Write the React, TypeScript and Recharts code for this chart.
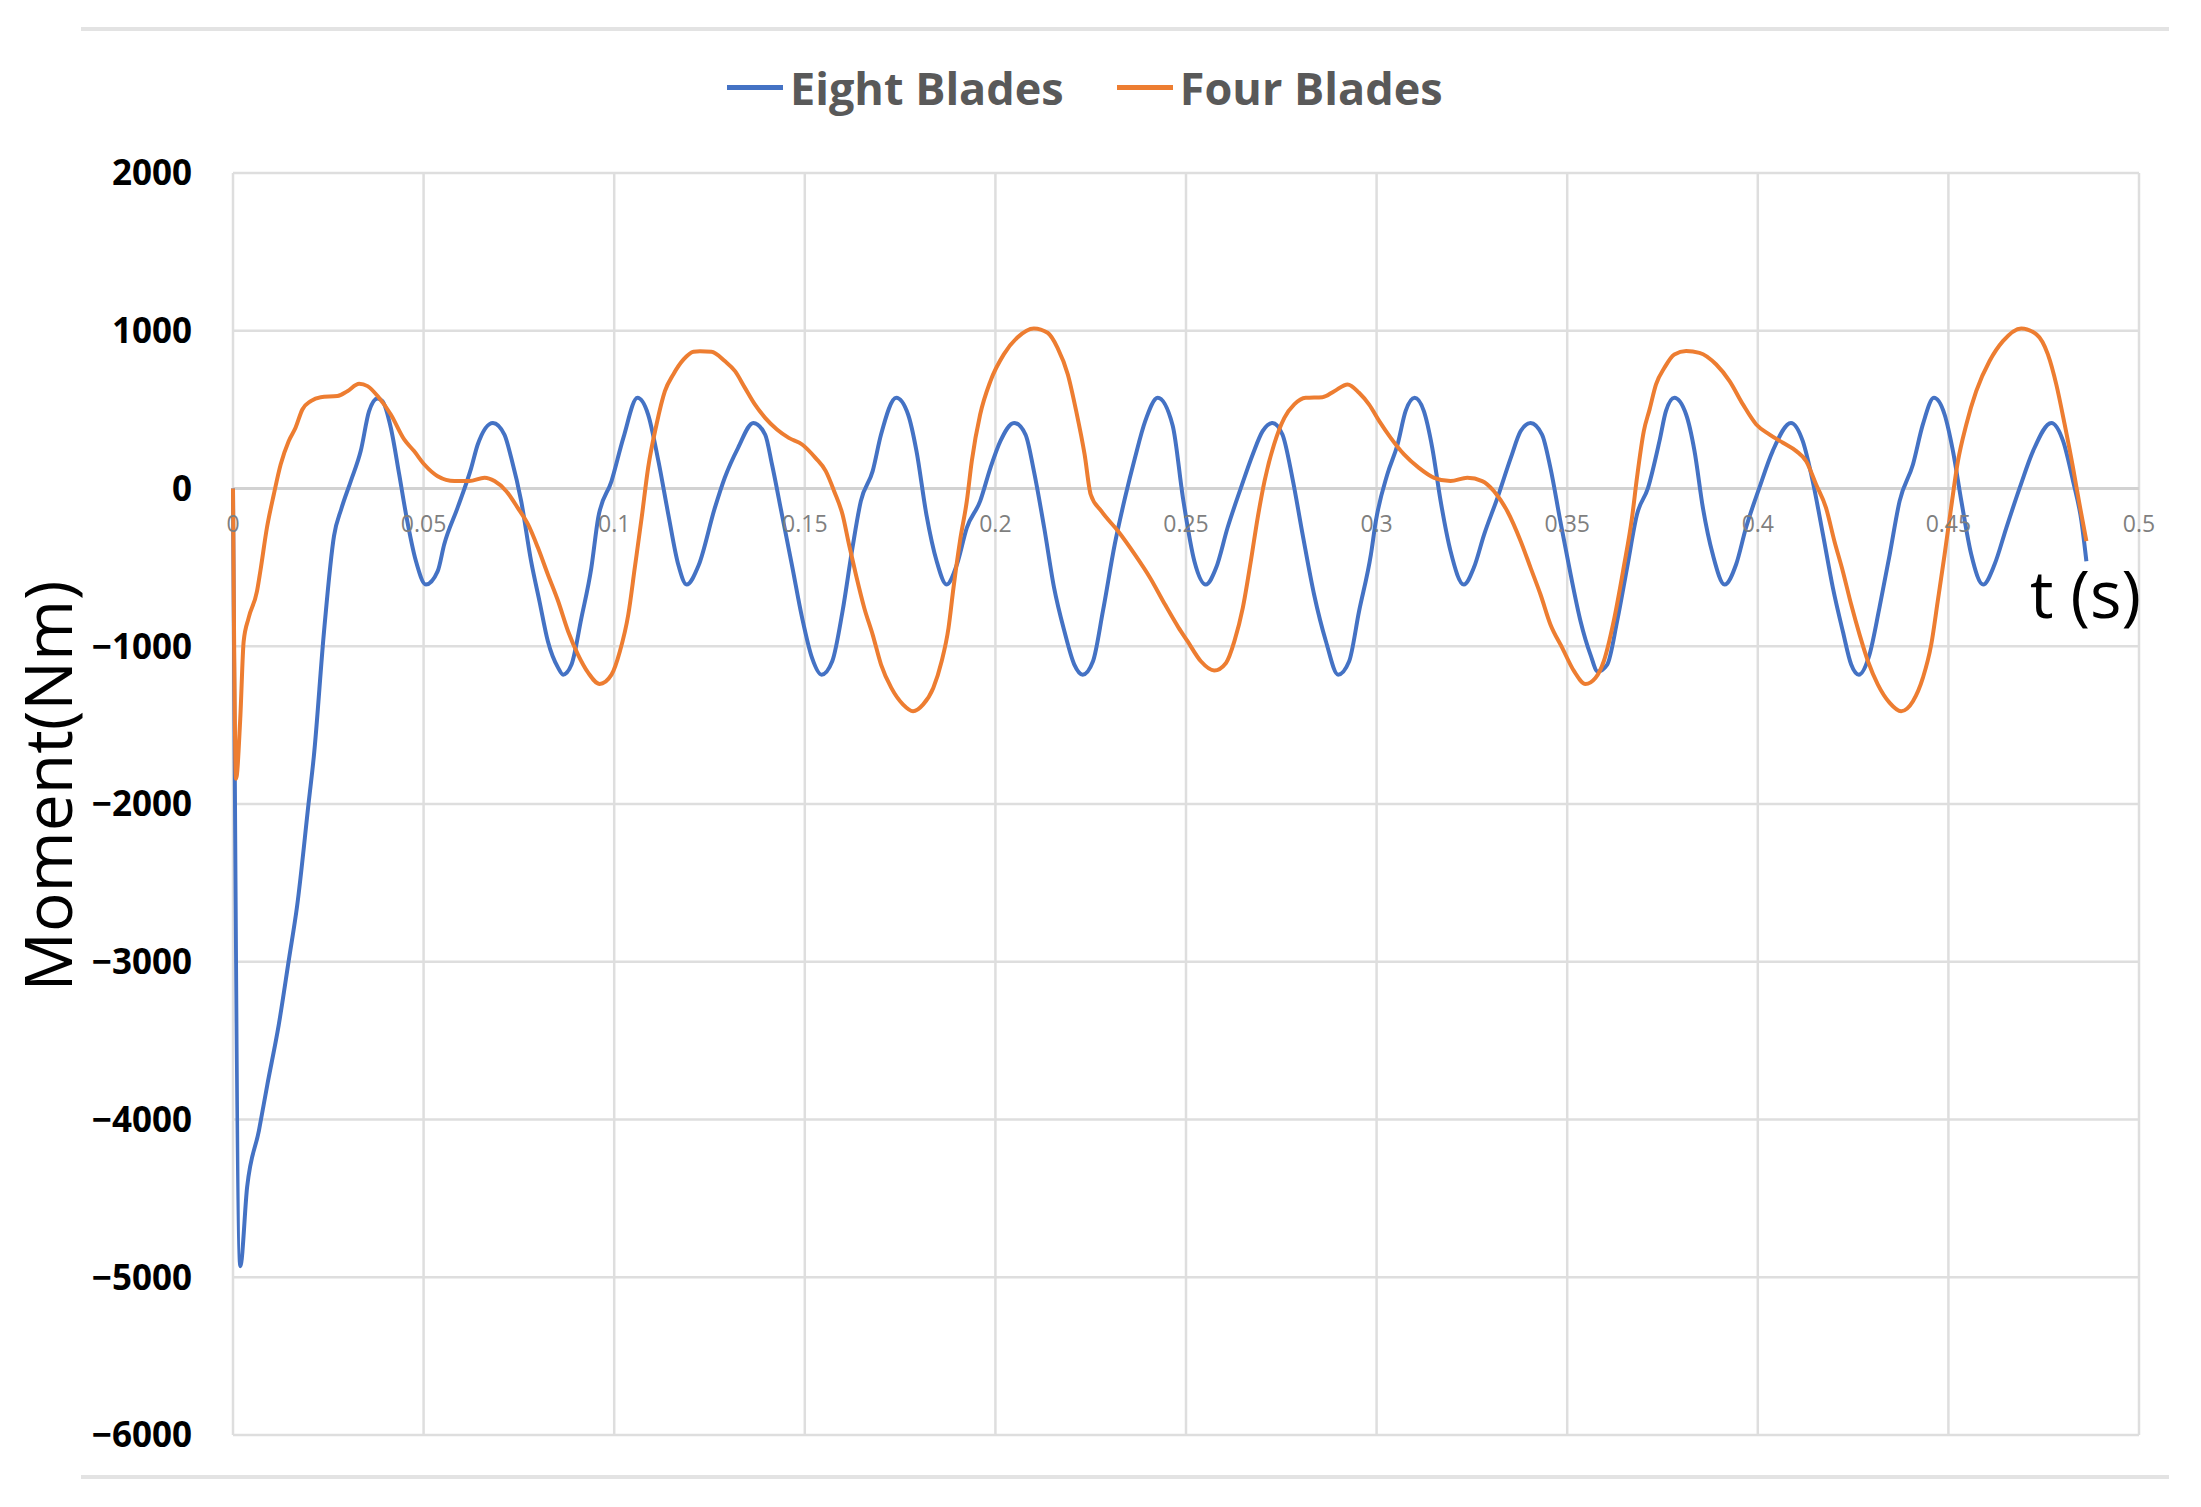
import React from 'react';
import { LineChart, Line, XAxis, YAxis, CartesianGrid, ReferenceLine } from 'recharts';

// time (s), moment (Nm)
const eightBlades: [number, number][] = [
  [0, 0], [0.0019, -4930], [0.0037, -4430], [0.0068, -4070], [0.009, -3780], [0.012, -3400],
  [0.0147, -2980], [0.0168, -2650], [0.0199, -1980], [0.0212, -1700], [0.0239, -900],
  [0.0265, -300], [0.0284, -130], [0.0309, 47], [0.0335, 237], [0.0357, 490], [0.0379, 570],
  [0.0392, 554], [0.0414, 385], [0.0436, 89], [0.0454, -165], [0.048, -461], [0.0506, -609],
  [0.0537, -524], [0.0554, -355], [0.0589, -123], [0.0625, 131], [0.0642, 279], [0.0682, 416],
  [0.0712, 342], [0.073, 194], [0.0756, -80], [0.0782, -461], [0.0804, -715], [0.0826, -968],
  [0.0853, -1137], [0.0866, -1180], [0.0888, -1116], [0.0914, -820], [0.094, -503], [0.0958, -186],
  [0.0993, 47], [0.1024, 321], [0.1061, 575], [0.1089, 469], [0.1116, 173], [0.1142, -165],
  [0.1168, -482], [0.119, -609], [0.1221, -490], [0.1264, -123], [0.129, 68], [0.1325, 258],
  [0.1365, 416], [0.1396, 342], [0.1414, 152], [0.144, -165], [0.1466, -482], [0.1493, -820],
  [0.1519, -1074], [0.1544, -1180], [0.1572, -1095], [0.1599, -778], [0.1625, -376], [0.1647, -80],
  [0.1678, 110], [0.17, 342], [0.174, 575], [0.1771, 469], [0.1793, 237], [0.1819, -165],
  [0.1846, -461], [0.1872, -609], [0.1899, -482], [0.1925, -249], [0.196, -80], [0.1987, 131],
  [0.2013, 300], [0.2049, 416], [0.2079, 342], [0.2101, 110], [0.2128, -249], [0.2154, -630],
  [0.2181, -905], [0.2207, -1116], [0.2229, -1180], [0.2256, -1095], [0.2282, -778], [0.2313, -355],
  [0.234, -59], [0.2366, 194], [0.2393, 427], [0.2426, 575], [0.2465, 400], [0.2492, -60],
  [0.2522, -461], [0.2552, -609], [0.2579, -503], [0.2609, -249], [0.2644, 4], [0.2675, 216],
  [0.2701, 364], [0.2727, 416], [0.2753, 342], [0.2779, 68], [0.2806, -292], [0.2836, -672],
  [0.2867, -968], [0.2899, -1180], [0.2928, -1095], [0.2954, -778], [0.2985, -419], [0.2998, -207],
  [0.3028, 89], [0.3055, 279], [0.3076, 490], [0.31, 575], [0.3124, 490], [0.3146, 258],
  [0.3168, -80], [0.3194, -397], [0.3229, -609], [0.3255, -503], [0.3282, -292], [0.3317, -59],
  [0.3352, 194], [0.3378, 364], [0.3404, 416], [0.3434, 342], [0.3456, 131], [0.3482, -207],
  [0.3509, -545], [0.3535, -841], [0.3561, -1053], [0.358, -1160], [0.3605, -1116], [0.3631, -841],
  [0.3657, -503], [0.3683, -165], [0.3712, 4], [0.3742, 300], [0.3759, 490], [0.3781, 575],
  [0.3812, 469], [0.3834, 237], [0.3856, -123], [0.3882, -419], [0.3913, -609], [0.3943, -482],
  [0.3969, -249], [0.4004, 4], [0.4039, 237], [0.4087, 416], [0.4118, 300], [0.4144, 47],
  [0.4171, -292], [0.4197, -630], [0.4223, -905], [0.4245, -1116], [0.4265, -1180], [0.4293, -1053],
  [0.4319, -757], [0.4346, -419], [0.4372, -80], [0.4407, 152], [0.4433, 406], [0.4462, 575],
  [0.449, 469], [0.4512, 237], [0.4534, -80], [0.456, -419], [0.4591, -609], [0.4621, -482],
  [0.4652, -249], [0.4687, 4], [0.4722, 237], [0.477, 416], [0.4801, 300], [0.4827, 47],
  [0.4849, -207], [0.4862, -461],
];

const fourBlades: [number, number][] = [
  [0, 0], [0.0008, -1840], [0.0019, -1460], [0.0028, -968], [0.0041, -820], [0.0063, -651],
  [0.0072, -520], [0.0089, -249], [0.0107, -38], [0.0125, 152], [0.0146, 300], [0.0164, 385],
  [0.0182, 501], [0.0204, 554], [0.023, 579], [0.0274, 586], [0.03, 617], [0.0331, 664],
  [0.0353, 649], [0.0383, 575], [0.0414, 469], [0.0449, 311], [0.0475, 237], [0.0502, 152],
  [0.0537, 78], [0.0581, 47], [0.062, 47], [0.066, 68], [0.0686, 47], [0.0717, -17],
  [0.0747, -123], [0.0774, -228], [0.08, -376], [0.0826, -545], [0.0853, -715], [0.0879, -905],
  [0.0905, -1053], [0.0932, -1169], [0.0962, -1239], [0.0993, -1180], [0.1015, -1032], [0.1037, -799],
  [0.1054, -503], [0.1072, -186], [0.1089, 131], [0.1111, 406], [0.1133, 617], [0.1155, 723],
  [0.1182, 818], [0.1208, 867], [0.1225, 870], [0.1255, 867], [0.129, 808], [0.1317, 744],
  [0.1343, 638], [0.1369, 533], [0.1396, 448], [0.1427, 374], [0.1458, 321], [0.1493, 279],
  [0.1528, 194], [0.1555, 110], [0.1577, -17], [0.1599, -165], [0.1616, -355], [0.1634, -545],
  [0.1656, -757], [0.1678, -926], [0.17, -1116], [0.1727, -1264], [0.1758, -1370], [0.1784, -1412],
  [0.181, -1370], [0.1837, -1264], [0.1859, -1095], [0.1877, -884], [0.189, -630], [0.1907, -334],
  [0.1925, -80], [0.1938, 173], [0.196, 469], [0.1987, 681], [0.2022, 850], [0.2057, 956],
  [0.2101, 1015], [0.2137, 987], [0.2163, 892], [0.219, 723], [0.2212, 490], [0.2234, 216],
  [0.225, -38], [0.2278, -144], [0.2322, -271], [0.2366, -419], [0.2406, -567], [0.2445, -736],
  [0.248, -880], [0.2504, -968], [0.2539, -1095], [0.2574, -1154], [0.2605, -1106], [0.2627, -968],
  [0.2649, -757], [0.267, -461], [0.2688, -186], [0.2706, 47], [0.2731, 279], [0.2758, 448],
  [0.2784, 533], [0.2814, 575], [0.2858, 579], [0.2889, 617], [0.2924, 660], [0.2954, 607],
  [0.298, 533], [0.3007, 427], [0.3037, 321], [0.3072, 216], [0.3111, 131], [0.3151, 68],
  [0.3194, 47], [0.3238, 68], [0.3277, 47], [0.3308, -17], [0.3343, -144], [0.3378, -334],
  [0.3404, -503], [0.343, -672], [0.3456, -862], [0.3487, -1010], [0.3518, -1158], [0.3548, -1239],
  [0.3574, -1201], [0.3596, -1095], [0.3622, -841], [0.3648, -503], [0.367, -186], [0.3683, 68],
  [0.3701, 364], [0.3716, 500], [0.3733, 660], [0.3755, 765], [0.3781, 850], [0.3812, 871],
  [0.3847, 860], [0.3891, 786], [0.3926, 681], [0.3961, 533], [0.3996, 406], [0.4031, 342],
  [0.4066, 290], [0.4101, 237], [0.4127, 173], [0.4153, 25], [0.4179, -123], [0.4201, -334],
  [0.4223, -524], [0.4245, -736], [0.4267, -926], [0.4289, -1095], [0.4315, -1243], [0.4346, -1359],
  [0.4376, -1412], [0.4407, -1349], [0.4433, -1201], [0.4455, -989], [0.4472, -715], [0.449, -419],
  [0.4507, -123], [0.4525, 173], [0.4547, 406], [0.4573, 617], [0.4608, 808], [0.4643, 934],
  [0.4691, 1015], [0.4731, 977], [0.4761, 850], [0.4783, 660], [0.4805, 406], [0.4827, 131],
  [0.4844, -101], [0.4862, -334],
];

const xTicks = [0, 0.05, 0.1, 0.15, 0.2, 0.25, 0.3, 0.35, 0.4, 0.45, 0.5];
const yTicks = [2000, 1000, 0, -1000, -2000, -3000, -4000, -5000, -6000];
const seriesNames = ['Eight Blades', 'Four Blades'];
const seriesColors = ['#4472C4', '#ED7D31'];

const W = 2201;
const H = 1507;
const PLOT = { left: 233, top: 173, right: 2139, bottom: 1435 };
const Y_AXIS_W = 140;
const X_AXIS_H = 30;
const Y_MIN = -6000;
const Y_MAX = 2000;
// y of the zero line, where Excel put the category labels
const zeroY = PLOT.top + ((PLOT.bottom - PLOT.top) * Y_MAX) / (Y_MAX - Y_MIN);

const toRows = (pts: [number, number][]) => pts.map(([t, m]) => ({ t, m }));

const FONT = '"Open Sans", "DejaVu Sans", sans-serif';

const ZeroTick = (props: any) => {
  const { x, payload } = props;
  return (
    <text x={x} y={zeroY + 43} textAnchor="middle" fontFamily={FONT} fontSize={23} fill="#7f7f7f">
      {String(payload.value)}
    </text>
  );
};

const YTitle = () => (
  <text x={72} y={786} transform="rotate(-90 72 786)" textAnchor="middle" fontFamily={FONT} fontSize={66} fill="#000">
    Moment(Nm)
  </text>
);

const XTitle = () => (
  <text x={2141} y={618} textAnchor="end" fontFamily={FONT} fontSize={66} fill="#000">
    t (s)
  </text>
);

const App = () => {
  return (
    <div style={{ position: 'absolute', left: 0, top: 0, width: W, height: H, background: '#fff' }}>
      {/* frame lines above and below the chart */}
      <div style={{ position: 'absolute', left: 81, top: 27, width: 2088, height: 4, background: '#e3e3e3' }} />
      <div style={{ position: 'absolute', left: 81, top: 1475, width: 2088, height: 4, background: '#e3e3e3' }} />

      <div
        style={{
          position: 'absolute', left: 727, top: 58, height: 58,
          display: 'flex', alignItems: 'center', fontFamily: FONT, fontWeight: 700, fontSize: 45, color: '#595959',
        }}
      >
        {seriesNames.map((name, i) => (
          <div key={name} style={{ display: 'flex', alignItems: 'center', marginRight: i === 0 ? 53 : 0 }}>
            <span style={{ display: 'inline-block', width: 56, height: 5, background: seriesColors[i], marginRight: 7 }} />
            <span>{name}</span>
          </div>
        ))}
      </div>

      <LineChart
        width={W}
        height={H}
        margin={{
          top: PLOT.top,
          right: W - PLOT.right,
          left: PLOT.left - Y_AXIS_W,
          bottom: H - PLOT.bottom - X_AXIS_H,
        }}
        style={{ position: 'absolute', left: 0, top: 0 }}
      >
        <CartesianGrid stroke="#dedede" strokeWidth={2.5} />
        <XAxis
          type="number"
          dataKey="t"
          domain={[0, 0.5]}
          ticks={xTicks}
          height={X_AXIS_H}
          axisLine={false}
          tickLine={false}
          tick={ZeroTick}
          interval={0}
          label={<XTitle />}
        />
        <YAxis
          type="number"
          domain={[Y_MIN, Y_MAX]}
          ticks={yTicks}
          width={Y_AXIS_W}
          axisLine={false}
          tickLine={false}
          tickSize={0}
          tickMargin={41}
          interval={0}
          tickFormatter={(v: number) => String(v).replace('-', '\u2212')}
          tick={{ fontFamily: FONT, fontWeight: 700, fontSize: 35, fill: '#000' }}
          label={<YTitle />}
        />
        <ReferenceLine y={0} stroke="#d2d2d2" strokeWidth={3} />
        <Line
          data={toRows(eightBlades)}
          dataKey="m"
          name={seriesNames[0]}
          type="monotone"
          stroke={seriesColors[0]}
          strokeWidth={4}
          dot={false}
          isAnimationActive={false}
        />
        <Line
          data={toRows(fourBlades)}
          dataKey="m"
          name={seriesNames[1]}
          type="monotone"
          stroke={seriesColors[1]}
          strokeWidth={4}
          dot={false}
          isAnimationActive={false}
        />
      </LineChart>
    </div>
  );
};

export default App;
